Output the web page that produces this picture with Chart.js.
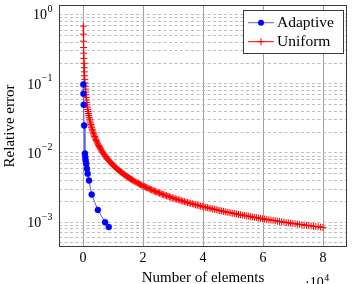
<!DOCTYPE html>
<html><head><meta charset="utf-8">
<script src="https://cdn.jsdelivr.net/npm/chart.js@4/dist/chart.umd.min.js"></script>
<style>html,body{margin:0;padding:0;background:#fff}#wrap{width:352px;height:284px}</style>
</head><body><div id="wrap"><canvas id="c" width="352" height="284"></canvas></div>
<script>
// ---- data ----
const adaptiveElements = [100, 150, 230, 380, 650, 760, 880, 1080, 1320, 1560, 2000, 2900, 4950, 7350, 8600];
const adaptiveError = [0.098, 0.072, 0.050, 0.025, 0.0098, 0.0087, 0.0078, 0.0070, 0.0059, 0.0050, 0.0040, 0.0025, 0.0015, 0.0010, 0.00085];

const uniformElements = [98, 128, 162, 200, 242, 288, 338, 392, 450, 512, 578, 648, 722, 800, 882, 968, 1058, 1152, 1250, 1352, 1458, 1568, 1682, 1800, 1922, 2048, 2178, 2312, 2450, 2592, 2738, 2888, 3042, 3200,
  3362, 3528, 3698, 3872, 4050, 4232, 4418, 4608, 4802, 5000, 5202, 5408, 5618, 5832, 6050, 6272, 6498, 6728, 6962, 7200, 7442, 7688, 7938, 8192, 8450, 8712, 8978, 9248, 9522, 9800,
  10082, 10368, 10658, 10952, 11250, 11552, 11858, 12168, 12482, 12800, 13122, 13448, 13778, 14112, 14450, 14792, 15138, 15488, 15842, 16200, 16562, 16928, 17298, 17672, 18050, 18432, 18818, 19208, 19602, 20000,
  20402, 20808, 21218, 21632, 22050, 22472, 22898, 23328, 23762, 24200, 24642, 25088, 25538, 25992, 26450, 26912, 27378, 27848, 28322, 28800, 29282, 29768, 30258, 30752, 31250, 31752, 32258, 32768, 33282, 33800,
  34322, 34848, 35378, 35912, 36450, 36992, 37538, 38088, 38642, 39200, 39762, 40328, 40898, 41472, 42050, 42632, 43218, 43808, 44402, 45000, 45602, 46208, 46818, 47432, 48050, 48672, 49298, 49928,
  50562, 51200, 51842, 52488, 53138, 53792, 54450, 55112, 55778, 56448, 57122, 57800, 58482, 59168, 59858, 60552, 61250, 61952, 62658, 63368, 64082, 64800, 65522, 66248, 66978, 67712, 68450, 69192, 69938, 70688,
  71442, 72200, 72962, 73728, 74498, 75272, 76050, 76832, 77618, 78408, 79202, 80000];
const uniformError = [0.684, 0.523, 0.414, 0.335, 0.277, 0.233, 0.198, 0.171, 0.149, 0.131, 0.116, 0.103, 0.0928, 0.0838, 0.0760, 0.0692, 0.0633, 0.0582, 0.0536, 0.0496, 0.0460, 0.0427, 0.0398, 0.0372, 0.0349, 0.0327, 0.0308, 0.0290, 0.0273, 0.0258, 0.0245, 0.0232, 0.0220, 0.0209,
  0.01993, 0.0190, 0.01812, 0.0173, 0.01654, 0.0158, 0.01517, 0.0145, 0.01395, 0.0134, 0.01288, 0.0124, 0.01193, 0.0115, 0.01107, 0.0107, 0.01031, 0.00996, 0.00962, 0.00931, 0.00900, 0.00871, 0.00844, 0.00818, 0.00793, 0.00769, 0.00746, 0.00724, 0.00704, 0.00684,
  0.00665, 0.00646, 0.00629, 0.00612, 0.00596, 0.00580, 0.00565, 0.00551, 0.00537, 0.00523, 0.00511, 0.00498, 0.00486, 0.00475, 0.00464, 0.00453, 0.00443, 0.00433, 0.00423, 0.00414, 0.00405, 0.00396, 0.00387, 0.00379, 0.00371, 0.00363, 0.00356, 0.00349, 0.00342, 0.00335,
  0.00328, 0.00322, 0.00316, 0.00310, 0.00304, 0.00298, 0.00293, 0.00287, 0.00282, 0.00277, 0.00272, 0.00267, 0.00262, 0.00258, 0.00253, 0.00249, 0.00245, 0.00241, 0.00237, 0.00233, 0.00229, 0.00225, 0.00221, 0.00218, 0.00214, 0.00211, 0.00208, 0.00204, 0.00201, 0.00198,
  0.00195, 0.00192, 0.00189, 0.00187, 0.00184, 0.00181, 0.00178, 0.00176, 0.00173, 0.00171, 0.00169, 0.00166, 0.00164, 0.00162, 0.00159, 0.00157, 0.00155, 0.00153, 0.00151, 0.00149, 0.00147, 0.00145, 0.00143, 0.00141, 0.00139, 0.00138, 0.00136, 0.00134,
  0.00133, 0.00131, 0.00129, 0.00128, 0.00126, 0.00125, 0.00123, 0.00122, 0.00120, 0.00119, 0.00117, 0.00116, 0.00115, 0.00113, 0.00112, 0.00111, 0.00109, 0.00108, 0.00107, 0.00106, 0.00105, 0.00103, 0.00102, 0.00101, 0.00100, 0.000989, 0.000979, 0.000968, 0.000958, 0.000948,
  0.000938, 0.000928, 0.000918, 0.000909, 0.000899, 0.000890, 0.000881, 0.000872, 0.000863, 0.000855, 0.000846, 0.000838];

const seriesLabels = ['Adaptive', 'Uniform'];
const xTickValues = [0, 20000, 40000, 60000, 80000];
const xTickLabels = ['0', '2', '4', '6', '8'];
const xScaleBase = '\u00B710';
const xScaleExp = '4';
const yMajorTicks = [1, 0.1, 0.01, 0.001];
const yTickBase = '10';
const yTickExponents = ['0', '\u22121', '\u22122', '\u22123'];
const yGridTicks = [0.0005, 0.0006, 0.0007, 0.0008, 0.0009,
  0.001, 0.002, 0.003, 0.004, 0.005, 0.006, 0.007, 0.008, 0.009,
  0.01, 0.02, 0.03, 0.04, 0.05, 0.06, 0.07, 0.08, 0.09,
  0.1, 0.2, 0.3, 0.4, 0.5, 0.6, 0.7, 0.8, 0.9, 1];
const xAxisTitle = 'Number of elements';
const yAxisTitle = 'Relative error';

const FONT = "'Liberation Serif', 'DejaVu Serif', serif";
const BLUE = '#0000ff', BLUE_LINE = '#5a5aff', RED = '#ff0000';

const overlay = {
  id: 'overlay',
  afterDraw(chart) {
    const ctx = chart.ctx, a = chart.chartArea;
    const ys = chart.scales.y;
    ctx.save();
    // frame
    ctx.strokeStyle = '#3a3a3a'; ctx.lineWidth = 1;
    ctx.strokeRect(Math.round(a.left) + 0.5, Math.round(a.top) + 0.5, Math.round(a.right - a.left) - 1, Math.round(a.bottom - a.top) - 1);
    // y tick labels 10^k
    ctx.fillStyle = '#000';
    yMajorTicks.forEach((v, i) => {
      const y = ys.getPixelForValue(v);
      const right = a.left - 6.5;
      ctx.font = '10px ' + FONT;
      const ew = ctx.measureText(yTickExponents[i]).width;
      ctx.textAlign = 'left'; ctx.textBaseline = 'alphabetic';
      ctx.fillText(yTickExponents[i], right - ew, y - 2.5);
      ctx.font = '14px ' + FONT;
      ctx.textAlign = 'right';
      ctx.fillText(yTickBase, right - ew - 0.5, y + 4.8);
    });
    // x scale multiplier
    ctx.font = '14px ' + FONT; ctx.textAlign = 'left'; ctx.textBaseline = 'alphabetic';
    ctx.fillText(xScaleBase, 305, 286.5);
    const bw = ctx.measureText(xScaleBase).width;
    ctx.font = '10px ' + FONT;
    ctx.fillText(xScaleExp, 305 + bw + 0.5, 280.5);
    // legend
    const lx = 243.5, ly = 10.5, lw = 100, lh = 43;
    ctx.fillStyle = '#fff'; ctx.fillRect(lx, ly, lw, lh);
    ctx.strokeStyle = '#3a3a3a'; ctx.strokeRect(lx, ly, lw, lh);
    const rows = [22.7, 41.7];
    chart.data.datasets.forEach((ds, i) => {
      const y = rows[i];
      ctx.strokeStyle = ds.borderColor; ctx.lineWidth = 1;
      ctx.beginPath(); ctx.moveTo(248, y); ctx.lineTo(274, y); ctx.stroke();
      if (ds.pointStyle === 'circle') {
        ctx.fillStyle = ds.pointBackgroundColor;
        ctx.beginPath(); ctx.arc(261, y, 3, 0, Math.PI * 2); ctx.fill();
      } else {
        ctx.strokeStyle = ds.pointBorderColor;
        ctx.beginPath(); ctx.moveTo(261 - 3.5, y); ctx.lineTo(261 + 3.5, y);
        ctx.moveTo(261, y - 3.5); ctx.lineTo(261, y + 3.5); ctx.stroke();
      }
      ctx.fillStyle = '#000'; ctx.font = '15.5px ' + FONT; ctx.textAlign = 'left'; ctx.textBaseline = 'middle';
      ctx.fillText(ds.label, 277, y + 0.5);
    });
    ctx.restore();
  }
};

new Chart(document.getElementById('c'), {
  type: 'line',
  data: {
    datasets: [
      {
        label: seriesLabels[0],
        data: adaptiveElements.map((x, i) => ({ x: x, y: adaptiveError[i] })),
        borderColor: BLUE_LINE, borderWidth: 1,
        pointStyle: 'circle', pointRadius: 3, pointBackgroundColor: BLUE, pointBorderColor: BLUE, pointBorderWidth: 0.5,
        tension: 0, fill: false
      },
      {
        label: seriesLabels[1],
        data: uniformElements.map((x, i) => ({ x: x, y: uniformError[i] })),
        borderColor: RED, borderWidth: 1,
        pointStyle: 'cross', pointRadius: 3.5, pointBorderColor: RED, pointBackgroundColor: RED, pointBorderWidth: 1,
        tension: 0, fill: false
      }
    ]
  },
  options: {
    responsive: false, animation: false, devicePixelRatio: 1,
    layout: { padding: { left: 0, top: 5, right: 3, bottom: 0 } },
    plugins: { legend: { display: false }, tooltip: { enabled: false } },
    scales: {
      x: {
        type: 'linear', min: -8000, max: 88000,
        afterBuildTicks: s => { s.ticks = xTickValues.map(v => ({ value: v })); },
        afterFit: s => { s.height = 37; },
        ticks: { callback: (v, i) => xTickLabels[i], font: { family: FONT, size: 14 }, color: '#000', padding: 3, maxRotation: 0 },
        grid: { color: '#a0a0a0', lineWidth: 1, drawTicks: false },
        border: { display: false },
        title: { display: true, text: xAxisTitle, font: { family: FONT, size: 15 }, color: '#000', padding: { top: 0, bottom: -3 } }
      },
      y: {
        type: 'logarithmic', min: 0.000437, max: 1.38,
        afterBuildTicks: s => { s.ticks = yGridTicks.map(v => ({ value: v })); },
        afterFit: s => { s.width = 59; },
        ticks: { display: false },
        grid: { color: '#bdbdbd', lineWidth: 1, drawTicks: false },
        border: { display: false, dash: [3, 2.5] },
        title: { display: true, text: yAxisTitle, font: { family: FONT, size: 15 }, color: '#000', padding: { top: 1, bottom: 0 } }
      }
    }
  },
  plugins: [overlay]
});
</script></body></html>
